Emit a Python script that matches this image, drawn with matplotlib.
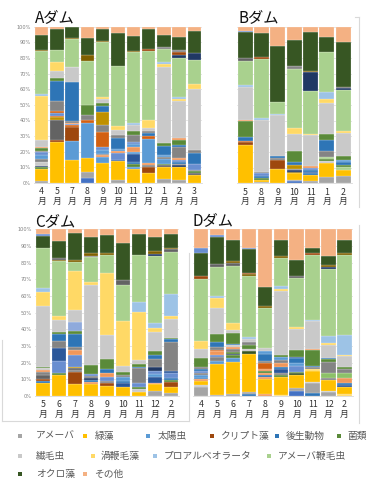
import numpy as np
import matplotlib
matplotlib.use("Agg")
import matplotlib.pyplot as plt
from matplotlib.lines import Line2D
from matplotlib.patches import Rectangle

plt.rcParams["font.family"] = ["Noto Sans CJK JP", "DejaVu Sans"]

W, H = 376, 498

# legend groups (key, label) in legend order
CATS = [("am", "アメーバ"), ("ga", "緑藻"), ("he", "太陽虫"), ("cr", "クリプト藻"),
        ("mz", "後生動物"), ("fu", "菌類"), ("ci", "繊毛虫"), ("di", "渦鞭毛藻"),
        ("pa", "プロアルベオラータ"), ("af", "アメーバ鞭毛虫"), ("oc", "オクロ藻"), ("ot", "その他")]

COLORS = {
    "am": "#A5A5A5", "ga": "#FFC000", "he": "#5B9BD5", "cr": "#9E480E",
    "mz": "#2E75B6", "fu": "#5A8A39", "ci": "#C9C9C9", "di": "#FFD966",
    "pa": "#9DC3E6", "af": "#A9D18E", "oc": "#375623", "ot": "#F4B183",
    # minor groups without a legend entry
    "b0": "#4472C4", "dg": "#636363", "g2": "#848484", "nv": "#203864",
    "db": "#2B579A", "mb": "#698ED0", "lb": "#8FAADC", "or": "#D26012",
    "lo": "#F1975A", "dd": "#BF9000", "ol": "#7F6000", "lg": "#8CC168",
}

# each bar: (group, percent) from bottom to top
A_MONTHS = ["4", "5", "7", "8", "9", "10", "11", "12", "1", "2", "3"]
A_BARS = [
    [("am", 1), ("ga", 8), ("fu", 1), ("nv", 1), ("ci", 2), ("g2", 2), ("he", 3), ("mb", 1.5), ("g2", 1), ("fu", 1.5),
     ("lo", 1), ("ci", 4), ("di", 28), ("pa", 1.5), ("af", 27), ("ol", 1), ("oc", 9.5), ("ot", 5)],
    [("ga", 26.3), ("cr", 1.5), ("dg", 12.2), ("dd", 2), ("or", 1), ("mb", 1.5), ("or", 1.5), ("g2", 6.5), ("mz", 12.8),
     ("fu", 1.7), ("ci", 4.5), ("di", 6), ("af", 7.5), ("oc", 13.5), ("ot", 1.5)],
    [("ga", 14.5), ("he", 12.5), ("cr", 9), ("or", 1), ("mb", 1), ("lo", 0.5), ("g2", 1), ("mz", 25), ("ci", 9.5),
     ("di", 0.5), ("af", 17.5), ("ol", 1), ("oc", 6.5), ("ot", 0.5)],
    [("b0", 3), ("am", 4), ("ga", 9), ("he", 22.5), ("or", 1.5), ("g2", 3), ("fu", 6.5), ("af", 28), ("ol", 4),
     ("oc", 11), ("ot", 7)],
    [("ga", 12.8), ("he", 4), ("lo", 0.8), ("g2", 0.8), ("he", 3), ("mb", 1.5), ("or", 10), ("g2", 4), ("dd", 8.5),
     ("mz", 4), ("fu", 2), ("ci", 2), ("di", 1.5), ("af", 35), ("ol", 1), ("oc", 7.5), ("ot", 1.5)],
    [("am", 1.7), ("ga", 12.3), ("db", 1), ("mb", 4), ("lo", 1.5), ("he", 1.5), ("mz", 7), ("g2", 1.5), ("ci", 3.5),
     ("di", 2.5), ("af", 38.5), ("oc", 21), ("ot", 4)],
    [("ga", 8.8), ("he", 1.5), ("fu", 2), ("mz", 1), ("db", 5.3), ("he", 1.5), ("lo", 3), ("he", 2), ("mb", 1),
     ("g2", 5), ("fu", 2.7), ("ci", 3.3), ("pa", 1.6), ("af", 46), ("ol", 0.5), ("oc", 9.5), ("ot", 6)],
    [("ga", 6.3), ("cr", 4.2), ("g2", 1), ("lo", 1), ("he", 15.5), ("or", 2), ("mz", 2), ("g2", 1.5), ("ci", 1.5),
     ("di", 5), ("af", 44.5), ("cr", 1.5), ("oc", 12.5), ("ot", 1.5)],
    [("am", 2.3), ("ga", 8), ("dg", 1), ("fu", 1), ("he", 3), ("g2", 1.5), ("he", 1), ("mz", 5.5), ("fu", 2.2),
     ("ci", 48.5), ("di", 2), ("pa", 1.5), ("af", 8), ("g2", 1.2), ("oc", 7.5), ("ot", 5.5)],
    [("am", 2), ("ga", 8.3), ("nv", 1), ("g2", 1), ("mz", 1), ("mb", 1), ("lo", 1.5), ("g2", 7), ("mz", 1), ("fu", 3.5),
     ("lo", 1), ("ci", 23.5), ("di", 1.5), ("pa", 1), ("af", 25), ("nv", 1.5), ("cr", 2), ("g2", 1), ("oc", 8.6),
     ("ot", 6.4)],
    [("ga", 5.3), ("dg", 1), ("fu", 1), ("g2", 1), ("mb", 4), ("mz", 7), ("g2", 1.5), ("ci", 39), ("di", 3.2),
     ("af", 15), ("nv", 4.5), ("oc", 14), ("ot", 2.6)],
]

B_MONTHS = ["5", "8", "9", "10", "11", "1", "2"]
B_BARS = [
    [("ga", 24.5), ("cr", 1.5), ("or", 1), ("mz", 2.5), ("fu", 10), ("lo", 0.8), ("ci", 20.5), ("pa", 1.2),
     ("af", 15.5), ("dg", 1.7), ("oc", 16.4), ("mb", 0.6), ("ot", 3)],
    [("am", 1), ("ga", 1.5), ("fu", 1), ("mz", 1), ("mb", 2), ("g2", 1), ("ci", 33), ("pa", 1), ("af", 37.5),
     ("cr", 1.2), ("oc", 15.3), ("ot", 4.3)],
    [("ga", 9), ("cr", 6), ("g2", 1), ("mz", 1.4), ("ci", 26.2), ("pa", 0.6), ("af", 7.8), ("oc", 35.7), ("ot", 12.3)],
    [("b0", 1.7), ("am", 0.8), ("ga", 4.3), ("ol", 0.6), ("nv", 1), ("g2", 1), ("dd", 2), ("mz", 2), ("fu", 7.2),
     ("ci", 10.6), ("di", 3.7), ("af", 37.4), ("g2", 1.6), ("oc", 16.5), ("ot", 8.5)],
    [("am", 1.5), ("ga", 4), ("mz", 1), ("db", 1), ("mz", 1), ("mb", 1.5), ("lo", 1.3), ("ci", 19.5), ("di", 1),
     ("af", 27), ("nv", 12), ("ol", 1), ("oc", 25), ("ot", 3.2)],
    [("am", 4.3), ("ga", 8.5), ("ci", 1.5), ("fu", 1.5), ("af", 1), ("g2", 3.5), ("mz", 7), ("fu", 3.8), ("ci", 20),
     ("di", 2), ("pa", 5), ("af", 25), ("oc", 9.6), ("ot", 6.4)],
    [("am", 4.7), ("ga", 3.8), ("af", 2), ("fu", 1), ("mz", 2.5), ("he", 1), ("fu", 2.5), ("ci", 15), ("di", 0.8),
     ("af", 26.5), ("nv", 1), ("dg", 1), ("oc", 28.7), ("ot", 9.5)],
]

C_MONTHS = ["5", "6", "7", "8", "9", "10", "11", "12", "2"]
C_BARS = [
    [("ga", 7.6), ("mz", 1), ("cr", 1.6), ("dg", 2.2), ("g2", 2), ("lo", 1), ("ci", 1), ("fu", 1), ("ci", 36),
     ("di", 8), ("pa", 2.6), ("af", 23.8), ("oc", 7.2), ("mb", 1), ("ot", 2.8)],
    [("ga", 12.2), ("fu", 1.5), ("mb", 7), ("db", 8), ("g2", 4), ("mz", 4), ("fu", 1.5), ("ci", 7), ("di", 2.2),
     ("af", 32.6), ("ol", 1), ("dg", 1.2), ("oc", 9.6), ("ot", 7.2)],
    [("ga", 7), ("cr", 7.2), ("g2", 1.2), ("dg", 1.2), ("dd", 1), ("mb", 7), ("lo", 2.8), ("g2", 2), ("mz", 8),
     ("fu", 1.8), ("lb", 5), ("ci", 7.2), ("di", 23.4), ("af", 5.2), ("ol", 1.6), ("oc", 15.8), ("ot", 2.4)],
    [("ga", 7.2), ("lo", 1), ("mz", 1.5), ("nv", 1), ("g2", 1.5), ("mb", 1), ("fu", 5.5), ("ci", 48.5), ("di", 1.4),
     ("af", 15), ("g2", 1), ("ol", 1.6), ("oc", 10), ("ot", 4.4)],
    [("ga", 5.8), ("cr", 1.8), ("g2", 1.2), ("mb", 2.4), ("lo", 2.4), ("mz", 2.6), ("fu", 6), ("ci", 14), ("di", 37),
     ("af", 11), ("ol", 1.4), ("oc", 10.6), ("ot", 3.4)],
    [("ga", 5.6), ("db", 2), ("mz", 1.6), ("he", 2), ("g2", 1.5), ("fu", 1.5), ("ci", 4), ("di", 27), ("af", 21.6),
     ("dg", 3), ("oc", 22.2), ("ot", 8)],
    [("ga", 2.6), ("ci", 1.6), ("fu", 1), ("mb", 2.4), ("g2", 9), ("mz", 1), ("fu", 1.8), ("ci", 2.4), ("di", 29),
     ("pa", 6), ("af", 28), ("oc", 13), ("ot", 2.8)],
    [("am", 3.2), ("ga", 3.6), ("lo", 0.8), ("db", 3.6), ("he", 2), ("mb", 1.4), ("nv", 2.2), ("g2", 5), ("mz", 2.4),
     ("fu", 2.6), ("ci", 11), ("di", 2.4), ("pa", 2.8), ("af", 39.4), ("nv", 1.4), ("ol", 1.6), ("oc", 8), ("ot", 4.8)],
    [("am", 1.6), ("ga", 4), ("cr", 2.6), ("fu", 1), ("mz", 1.2), ("mb", 3.4), ("db", 1.2), ("g2", 17), ("mz", 1.4),
     ("fu", 0.8), ("ci", 11.2), ("di", 1.6), ("pa", 13), ("af", 25), ("dg", 1.6), ("ol", 0.8), ("oc", 8), ("ot", 3)],
]

D_MONTHS = ["4", "5", "6", "7", "8", "9", "10", "11", "12", "2"]
D_BARS = [
    [("am", 5.4), ("ci", 0.8), ("ga", 2.6), ("lo", 1), ("mz", 1), ("he", 1.4), ("g2", 1.6), ("mb", 1), ("mz", 1.2),
     ("g2", 1.2), ("fu", 5), ("ci", 5.8), ("di", 4.6), ("af", 36.6), ("cr", 1.4), ("oc", 14), ("mb", 3), ("ot", 10.8)],
    [("am", 0.8), ("ga", 18.4), ("he", 1.4), ("g2", 2.4), ("mb", 1), ("lo", 2.8), ("or", 0.6), ("g2", 1.4), ("mz", 3.4),
     ("fu", 4.6), ("ci", 15.4), ("di", 6), ("pa", 1), ("af", 17), ("dg", 2), ("oc", 15.6), ("mb", 1.4), ("ot", 3.4)],
    [("am", 1.2), ("ga", 19), ("he", 2.4), ("fu", 1.6), ("nv", 1), ("fu", 1), ("g2", 2), ("lo", 1), ("ci", 1),
     ("mz", 1), ("fu", 6.4), ("ci", 2), ("di", 4), ("af", 34), ("dg", 2), ("ol", 1), ("oc", 12.4), ("ot", 6.4)],
    [("mz", 1.2), ("am", 1), ("ga", 23), ("oc", 1.4), ("ci", 1.4), ("fu", 2.6), ("g2", 1.4), ("ci", 2), ("pa", 1),
     ("af", 36.4), ("ol", 1), ("cr", 1), ("oc", 14), ("mb", 0.6), ("ot", 11.2)],
    [("lo", 1.2), ("ga", 9), ("lo", 1.4), ("mz", 1), ("lo", 1), ("fu", 1.6), ("lo", 1), ("or", 3.4), ("g2", 1.2),
     ("mz", 4.4), ("he", 1.4), ("ci", 1.8), ("af", 24.4), ("ol", 1), ("oc", 11.4), ("ot", 34.4)],
    [("di", 0.8), ("ga", 10.6), ("fu", 1), ("g2", 1), ("db", 2.4), ("mz", 1.6), ("lo", 2.4), ("g2", 1.6), ("he", 1.4),
     ("fu", 1.6), ("ci", 37.6), ("di", 1.4), ("pa", 1.4), ("af", 17), ("ol", 1), ("oc", 9.4), ("ot", 6.4)],
    [("b0", 3), ("am", 2), ("ga", 7.5), ("oc", 1), ("fu", 1), ("mb", 3.4), ("he", 2), ("mz", 2.6), ("db", 1),
     ("fu", 4), ("ci", 12.6), ("di", 1.4), ("af", 29.2), ("dg", 1.4), ("oc", 9.4), ("ot", 18.4)],
    [("mz", 1.8), ("am", 6), ("ci", 0.6), ("ga", 6.6), ("di", 1.2), ("g2", 1), ("mz", 0.6), ("fu", 9.5), ("lo", 0.8),
     ("ci", 17), ("pa", 0.6), ("af", 39), ("cr", 1), ("oc", 3), ("ot", 11.2)],
    [("am", 2.4), ("ci", 0.8), ("ga", 6.2), ("g2", 1.2), ("lg", 3), ("g2", 6.4), ("fu", 2), ("mz", 0.8), ("ci", 7.6),
     ("di", 1), ("pa", 4.4), ("af", 40), ("nv", 1.2), ("ol", 1), ("oc", 5.6), ("ot", 15.8)],
    [("di", 1), ("ga", 4.5), ("db", 1.2), ("mz", 1.2), ("lo", 2.8), ("lg", 3), ("g2", 2.4), ("fu", 1), ("ci", 6.6),
     ("di", 0.8), ("pa", 12), ("af", 47.4), ("ol", 1), ("oc", 8), ("ot", 6.4)],
]

# legend rows: (group, marker x px, text x px), row y px
LEGEND_ROWS = [
    (436, [("am", 18.3, 35.7), ("ga", 83.3, 94.3), ("he", 146, 157.3), ("cr", 210, 220),
           ("mz", 275.3, 285.3), ("fu", 336.7, 347.3)]),
    (455.5, [("ci", 18.3, 35.7), ("di", 90.7, 100.7), ("pa", 152.7, 163.3), ("af", 266.7, 278.3)]),
    (474, [("oc", 18.3, 35.7), ("ot", 83.3, 94.3)]),
]

fig = plt.figure(figsize=(W / 100, H / 100), dpi=100)


def box(left, right, top, bottom):
    return [left / W, 1 - bottom / H, (right - left) / W, (bottom - top) / H]


def fig_line(x0, y0, x1, y1):
    fig.add_artist(Line2D([x0 / W, x1 / W], [1 - y0 / H, 1 - y1 / H], transform=fig.transFigure,
                          color="#d9d9d9", lw=0.8))


def draw_panel(rect, title, title_xy, months, bars, width, ylabels):
    ax = fig.add_axes(rect)
    for i, segs in enumerate(bars):
        vals = np.array([v for _, v in segs], dtype=float)
        vals = vals / vals.sum() * 100.0
        bottoms = np.concatenate([[0.0], np.cumsum(vals)[:-1]])
        ax.bar(np.full(len(vals), i), vals, width, bottom=bottoms,
               color=[COLORS[k] for k, _ in segs], edgecolor="white", linewidth=0.15)
    ax.set_xlim(-0.5, len(bars) - 0.5)
    ax.set_ylim(0, 100)
    ax.set_xticks(range(len(months)))
    ax.set_xticklabels([m + "\n月" for m in months], fontsize=6.3, color="#333333", linespacing=1.1)
    ax.tick_params(axis="x", length=0, pad=3)
    ax.set_yticks(np.arange(0, 101, 10))
    if ylabels:
        ax.set_yticklabels([f"{v}%" for v in range(0, 101, 10)], fontsize=3.6, color="#808080",
                           family="DejaVu Sans")
        ax.tick_params(axis="y", length=0, pad=2.5)
    else:
        ax.tick_params(axis="y", length=0, labelleft=False)
    ax.yaxis.grid(True, color="#d9d9d9", lw=0.5)
    ax.set_axisbelow(True)
    for s in ["top", "right", "left"]:
        ax.spines[s].set_visible(False)
    ax.spines["bottom"].set_color("#d9d9d9")
    ax.spines["bottom"].set_linewidth(0.6)
    fig.text(title_xy[0] / W, 1 - title_xy[1] / H, title, fontsize=11, va="center", ha="left", color="#111111")
    return ax


draw_panel(box(34, 202, 26.7, 183), "Aダム", (35, 17.5), A_MONTHS, A_BARS, 0.88, True)
draw_panel(box(237, 351.5, 26.7, 183.5), "Bダム", (238, 17.5), B_MONTHS, B_BARS, 0.92, False)
draw_panel(box(35, 179, 229.3, 396), "Cダム", (35, 221.5), C_MONTHS, C_BARS, 0.92, True)
draw_panel(box(193, 352.5, 229.3, 396), "Dダム", (193, 220.5), D_MONTHS, D_BARS, 0.9, False)

# chart frame remnants
fig_line(359, 17, 359, 207)
fig_line(355, 17, 359, 17)
fig_line(359, 225, 359, 423)
fig_line(189, 253, 189, 421)
fig_line(2, 421, 189, 421)
fig_line(2, 340, 2, 421)

# legend
labels = dict(CATS)
for y, items in LEGEND_ROWS:
    for key, mx, tx in items:
        fig.add_artist(Rectangle((mx / W, 1 - (y + 2) / H), 4 / W, 4 / H, transform=fig.transFigure,
                                 facecolor=COLORS[key], edgecolor="none"))
        fig.text(tx / W, 1 - y / H, labels[key], fontsize=7, color="#595959", va="center", ha="left")

fig.savefig("out.png", dpi=100)
